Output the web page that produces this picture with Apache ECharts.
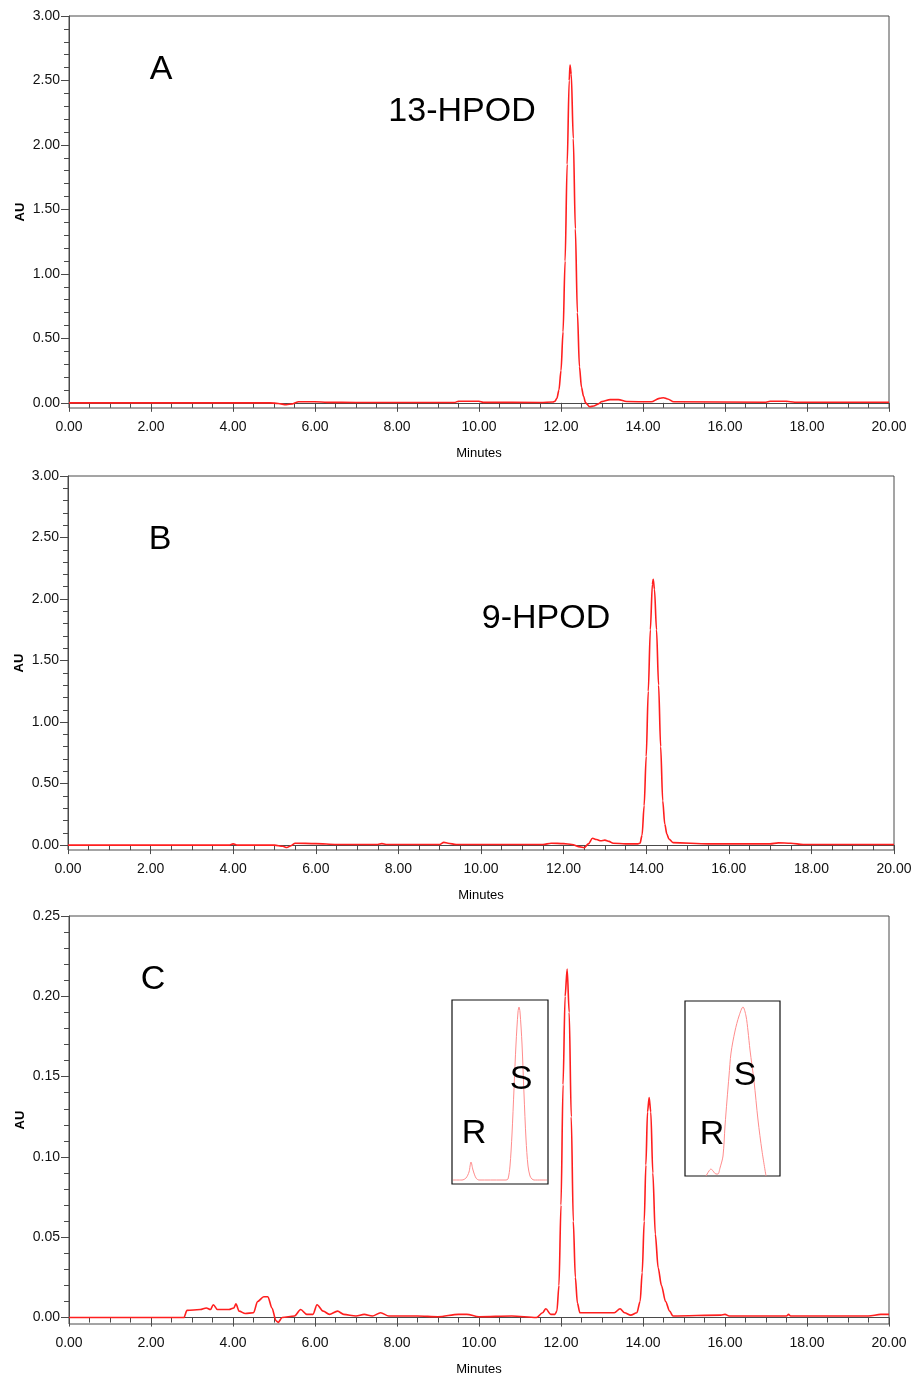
<!DOCTYPE html>
<html>
<head>
<meta charset="utf-8">
<script src="https://cdn.jsdelivr.net/npm/echarts@6/dist/echarts.min.js"></script>
<style>
  html, body { margin: 0; padding: 0; background: #fff; }
  #chart { width: 914px; height: 1379px; }
</style>
</head>
<body>
<div id="chart"></div>
<script>
var chartDom = document.getElementById('chart');
var myChart = echarts.init(chartDom);

// panel A: 13-HPOD
var timeA = [0, 4.9, 5.1, 5.3, 5.45, 5.6, 6.0, 6.3, 7.0, 9.4, 9.5, 10.0, 10.1, 11.5, 11.8, 11.85, 11.9, 11.95, 12.0, 12.05, 12.1, 12.15, 12.2, 12.22, 12.25, 12.3, 12.35, 12.4, 12.45, 12.5, 12.55, 12.6, 12.7, 12.8, 12.9, 13.0, 13.2, 13.4, 13.6, 14.2, 14.4, 14.5, 14.6, 14.75, 17.0, 17.1, 17.5, 17.7, 20];
var auA = [0, 0, -0.005, -0.015, -0.008, 0.008, 0.008, 0.004, 0.003, 0.003, 0.012, 0.012, 0.004, 0.003, 0.006, 0.012, 0.035, 0.1, 0.25, 0.55, 1.1, 1.85, 2.5, 2.62, 2.55, 2.05, 1.35, 0.7, 0.28, 0.12, 0.05, 0.0, -0.03, -0.025, -0.01, 0.01, 0.025, 0.025, 0.01, 0.008, 0.035, 0.04, 0.03, 0.008, 0.005, 0.012, 0.012, 0.005, 0.005];

// panel B: 9-HPOD
var timeB = [0, 3.9, 4.0, 4.1, 5.0, 5.2, 5.3, 5.4, 5.5, 6.0, 6.5, 7.5, 7.6, 7.7, 9.0, 9.1, 9.2, 9.4, 11.5, 11.7, 12.0, 12.2, 12.4, 12.5, 12.6, 12.7, 12.8, 12.9, 13.0, 13.1, 13.2, 13.5, 13.8, 13.85, 13.9, 13.95, 14.0, 14.05, 14.1, 14.15, 14.17, 14.2, 14.25, 14.3, 14.35, 14.4, 14.45, 14.5, 14.55, 14.65, 15.5, 17.0, 17.2, 17.5, 17.8, 20];
var auB = [0, 0, 0.01, 0, 0, -0.01, -0.02, -0.005, 0.015, 0.012, 0.005, 0.005, 0.012, 0.005, 0.005, 0.022, 0.015, 0.005, 0.005, 0.015, 0.012, 0.005, -0.015, -0.022, 0.01, 0.055, 0.045, 0.035, 0.04, 0.03, 0.015, 0.01, 0.01, 0.015, 0.08, 0.32, 0.72, 1.25, 1.75, 2.12, 2.16, 2.08, 1.75, 1.3, 0.8, 0.36, 0.17, 0.09, 0.05, 0.02, 0.01, 0.01, 0.018, 0.015, 0.005, 0.005];

// panel C: enzyme products
var timeC = [0, 2.8, 2.88, 3.2, 3.35, 3.45, 3.52, 3.62, 3.9, 4.02, 4.07, 4.15, 4.3, 4.5, 4.6, 4.75, 4.85, 4.95, 5.05, 5.1, 5.2, 5.5, 5.65, 5.8, 5.95, 6.05, 6.2, 6.35, 6.55, 6.7, 7.0, 7.2, 7.4, 7.6, 7.8, 8.5, 9.0, 9.5, 9.7, 10.0, 10.8, 11.4, 11.55, 11.63, 11.75, 11.85, 11.9, 11.95, 12.0, 12.05, 12.1, 12.15, 12.2, 12.25, 12.3, 12.35, 12.4, 12.46, 13.3, 13.44, 13.55, 13.7, 13.85, 13.93, 13.98, 14.03, 14.07, 14.11, 14.15, 14.19, 14.24, 14.3, 14.37, 14.45, 14.55, 14.65, 14.73, 15.9, 16.0, 16.1, 17.5, 17.55, 17.6, 19.5, 19.8, 20];
var auC = [0, 0, 0.0045, 0.005, 0.006, 0.005, 0.008, 0.005, 0.005, 0.006, 0.0085, 0.004, 0.0025, 0.003, 0.01, 0.013, 0.013, 0.006, -0.002, -0.003, 0, 0.001, 0.005, 0.002, 0.002, 0.008, 0.004, 0.002, 0.004, 0.002, 0.001, 0.002, 0.001, 0.003, 0.001, 0.001, 0.0005, 0.002, 0.002, 0.0005, 0.001, 0, 0.003, 0.0055, 0.002, 0.002, 0.004, 0.02, 0.07, 0.145, 0.2, 0.217, 0.19, 0.125, 0.06, 0.025, 0.009, 0.003, 0.003, 0.0055, 0.003, 0.0015, 0.003, 0.01, 0.028, 0.06, 0.095, 0.128, 0.137, 0.128, 0.09, 0.052, 0.031, 0.02, 0.01, 0.004, 0.001, 0.0015, 0.002, 0.001, 0.001, 0.002, 0.001, 0.001, 0.002, 0.002];

// insets (enlarged R/S enantiomer separation, relative units)
var insetLeftT = [1, 10, 14, 17, 19, 21, 24, 27, 50, 54, 56, 58, 60, 62, 64, 66, 67, 68, 70, 72, 74, 76, 78, 80, 82, 95];
var insetLeftS = [4, 4, 6, 12, 22, 14, 6, 4, 4, 4, 5, 18, 50, 95, 140, 172, 177, 172, 140, 90, 45, 18, 8, 5, 4, 4];
var insetRightT = [21, 24, 26, 28, 31, 33, 35, 38, 40, 42, 44, 46, 50, 54, 58, 61, 63, 65, 69, 73, 77, 81];
var insetRightS = [0, 5, 7, 5, 2, 2, 8, 20, 50, 76, 100, 123, 145, 160, 169, 160, 145, 126, 95, 56, 25, 0];

var yMajorAU = [0, 0.5, 1, 1.5, 2, 2.5, 3];
var yMajorC = [0, 0.05, 0.1, 0.15, 0.2, 0.25];

function pairs(t, v) {
  return t.map(function (x, i) { return [x, v[i]]; });
}
function steps(from, to, step, skip) {
  var out = [];
  for (var i = 1; from + i * step < to - 1e-9; i++) {
    var v = +(from + i * step).toFixed(4);
    if (i % skip !== 0) out.push(v);
  }
  return out;
}

var fontFam = '"Liberation Sans", Arial, sans-serif';
var axisCol = '#4a4a4a';
var lineCol = '#ff1f1f';

var panels = [
  { grid: { left: 69, top: 16, width: 820, height: 392 }, min: -0.04, max: 3, major: yMajorAU, minor: steps(0, 3, 0.1, 5), data: pairs(timeA, auA) },
  { grid: { left: 68, top: 476, width: 826, height: 374 }, min: -0.04, max: 3, major: yMajorAU, minor: steps(0, 3, 0.1, 5), data: pairs(timeB, auB) },
  { grid: { left: 69, top: 916, width: 820, height: 408 }, min: -0.004, max: 0.25, major: yMajorC, minor: steps(0, 0.25, 0.01, 5), data: pairs(timeC, auC) }
];

var grids = [], xAxes = [], yAxes = [], series = [];

panels.forEach(function (p, k) {
  grids.push(Object.assign({ show: true, borderColor: axisCol, borderWidth: 1, outerBoundsMode: 'none', containLabel: false }, p.grid));
  xAxes.push({
    gridIndex: k, type: 'value', min: 0, max: 20, interval: 2,
    name: 'Minutes', nameLocation: 'middle', nameGap: 39,
    nameTextStyle: { fontFamily: fontFam, fontSize: 13, color: '#000' },
    axisLine: { lineStyle: { color: axisCol, width: 1 } },
    axisTick: { length: 9, lineStyle: { color: axisCol } },
    minorTick: { show: true, splitNumber: 4, length: 5, lineStyle: { color: axisCol } },
    splitLine: { show: false },
    axisLabel: {
      margin: 12, fontFamily: fontFam, fontSize: 14, color: '#111',
      showMinLabel: true, showMaxLabel: true,
      formatter: function (v) { return v.toFixed(2); }
    }
  });
  yAxes.push({
    gridIndex: k, type: 'value', min: p.min, max: p.max, position: 'left',
    name: 'AU', nameLocation: 'middle', nameGap: 49, nameRotate: 90, nameMoveOverlap: false,
    nameTextStyle: { fontFamily: fontFam, fontSize: 13, fontWeight: 'bold', color: '#000', align: 'center', verticalAlign: 'middle' },
    axisLine: { show: true, lineStyle: { color: axisCol, width: 1 } },
    axisTick: { show: true, length: 8, customValues: p.major, lineStyle: { color: axisCol } },
    splitLine: { show: false },
    axisLabel: {
      margin: 9, fontFamily: fontFam, fontSize: 14, color: '#111',
      customValues: p.major,
      formatter: function (v) { return v.toFixed(2); }
    }
  });
  series.push({
    type: 'line', xAxisIndex: k, yAxisIndex: yAxes.length - 1,
    data: p.data, showSymbol: false, symbol: 'none',
    smooth: 0.3, smoothMonotone: 'x',
    lineStyle: { color: lineCol, width: 1.6 }
  });
  // minor y ticks
  yAxes.push({
    gridIndex: k, type: 'value', min: p.min, max: p.max, position: 'left',
    axisLine: { show: false },
    axisTick: { show: true, length: 5, customValues: p.minor, lineStyle: { color: axisCol } },
    axisLabel: { show: false },
    splitLine: { show: false }
  });
});

// inset boxes
var insets = [
  { grid: { left: 452, top: 1000, width: 96, height: 184 }, xMax: 96, yMax: 184, data: pairs(insetLeftT, insetLeftS) },
  { grid: { left: 685, top: 1001, width: 95, height: 175 }, xMax: 95, yMax: 175, data: pairs(insetRightT, insetRightS) }
];
insets.forEach(function (s) {
  var gi = grids.length;
  grids.push(Object.assign({ show: true, borderColor: '#111', borderWidth: 1.2, backgroundColor: '#fff', outerBoundsMode: 'none', containLabel: false }, s.grid));
  xAxes.push({ gridIndex: gi, type: 'value', min: 0, max: s.xMax, show: false });
  yAxes.push({ gridIndex: gi, type: 'value', min: 0, max: s.yMax, show: false });
  series.push({
    type: 'line', xAxisIndex: xAxes.length - 1, yAxisIndex: yAxes.length - 1,
    data: s.data, showSymbol: false, symbol: 'none', smooth: 0.3,
    lineStyle: { color: '#ff8c8c', width: 1 }
  });
});

function label(text, x, y) {
  return {
    type: 'text', x: x, y: y, z: 100,
    style: { text: text, fill: '#000', font: '34px ' + fontFam, align: 'center', verticalAlign: 'middle' }
  };
}

var option = {
  animation: false,
  backgroundColor: '#fff',
  grid: grids,
  xAxis: xAxes,
  yAxis: yAxes,
  series: series,
  graphic: [
    label('A', 161, 70),
    label('13-HPOD', 462, 112),
    label('B', 160, 540),
    label('9-HPOD', 546, 619),
    label('C', 153, 980),
    label('R', 474, 1134),
    label('S', 521, 1080),
    label('R', 712, 1135),
    label('S', 745, 1076)
  ]
};

myChart.setOption(option);
</script>
</body>
</html>
